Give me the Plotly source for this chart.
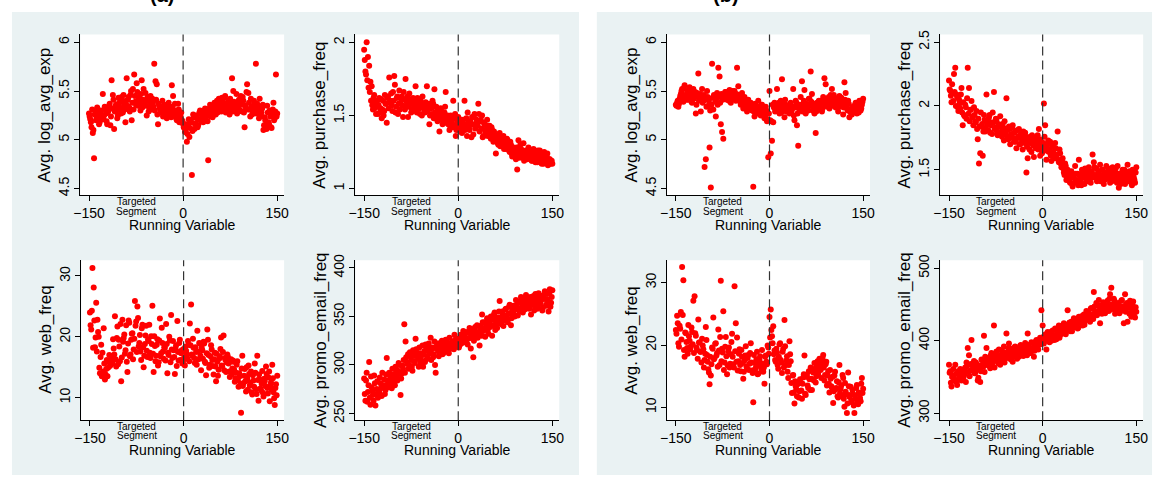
import plotly.graph_objects as go

# ---------------- data ----------------
running_variable = list(range(-150, 151, 2))        # even bins
running_variable_odd = list(range(-149, 150, 2))    # odd bins
x_tick_values = [-150, 0, 150]

a_log_avg_exp = [
    5.27, 5.21, 5.13, 5.07, 4.81, 5.30, 5.24, 5.29, 5.16, 5.27,
    5.22, 5.47, 5.25, 5.31, 5.19, 5.28, 5.35, 5.15, 5.61, 5.46,
    5.11, 5.34, 5.30, 5.25, 5.38, 5.32, 5.44, 5.28, 5.36, 5.18,
    5.63, 5.41, 5.33, 5.46, 5.20, 5.52, 5.67, 5.39, 5.58, 5.35,
    5.44, 5.30, 5.61, 5.41, 5.36, 5.48, 5.25, 5.40, 5.33, 5.45,
    5.31, 5.38, 5.78, 5.60, 5.57, 5.16, 5.35, 5.28, 5.33, 5.24,
    5.36, 5.29, 5.22, 5.34, 5.27, 5.31, 5.56, 5.45, 5.25, 5.30,
    5.20, 5.37, 5.18, 5.24, 5.20, 5.16, 5.12, 5.10, 4.98, 5.14,
    5.03, 5.19, 4.64, 5.26, 5.11, 5.17, 5.22, 5.15, 5.28, 5.20,
    5.25, 5.18, 5.30, 5.22, 5.27, 4.79, 5.32, 5.24, 5.35, 5.29,
    5.38, 5.26, 5.40, 5.33, 5.38, 5.30, 5.43, 5.36, 5.43, 5.28,
    5.34, 5.40, 5.26, 5.37, 5.63, 5.50, 5.31, 5.38, 5.27, 5.34,
    5.37, 5.45, 5.29, 5.40, 5.13, 5.33, 5.57, 5.48, 5.31, 5.42,
    5.26, 5.35, 5.29, 5.78, 5.37, 5.30, 5.42, 5.25, 5.32, 5.10,
    5.23, 5.14, 5.35, 5.18, 5.30, 5.13, 5.27, 5.38, 5.22, 5.67,
    5.27,
]
a_log_avg_exp_odd = [
    5.24, 5.18, 5.31, 5.10, 5.26, 5.20, 5.33, 5.23, 5.18, 5.30,
    5.25, 5.21, 5.34, 5.27, 5.16, 5.30, 5.37, 5.24, 5.32, 5.41,
    5.29, 5.36, 5.22, 5.43, 5.33, 5.27, 5.39, 5.46, 5.31, 5.40,
    5.35, 5.44, 5.29, 5.50, 5.38, 5.31, 5.45, 5.36, 5.49, 5.42,
    5.38, 5.47, 5.33, 5.52, 5.40, 5.35, 5.43, 5.29, 5.39, 5.36,
    5.42, 5.34, 5.30, 5.41, 5.26, 5.37, 5.32, 5.28, 5.40, 5.30,
    5.27, 5.33, 5.25, 5.38, 5.30, 5.23, 5.34, 5.28, 5.37, 5.22,
    5.26, 5.31, 5.22, 5.28, 5.19, 5.13, 5.08, 5.16, 5.06, 5.21,
    5.12, 5.18, 5.09, 5.23, 5.16, 5.25, 5.13, 5.21, 5.30, 5.19,
    5.28, 5.21, 5.32, 5.25, 5.19, 5.30, 5.36, 5.27, 5.23, 5.33,
    5.31, 5.37, 5.28, 5.42, 5.35, 5.29, 5.39, 5.33, 5.45, 5.37,
    5.30, 5.36, 5.42, 5.33, 5.29, 5.39, 5.35, 5.47, 5.32, 5.41,
    5.30, 5.36, 5.44, 5.28, 5.35, 5.49, 5.31, 5.38, 5.24, 5.34,
    5.29, 5.40, 5.32, 5.27, 5.35, 5.22, 5.31, 5.28, 5.36, 5.15,
    5.20, 5.11, 5.28, 5.16, 5.24, 5.12, 5.31, 5.20, 5.29, 5.24,
]
a_purchase_freq = [
    1.95, 1.80, 2.00, 1.90, 1.84, 1.73, 1.70, 1.54, 1.64, 1.59,
    1.56, 1.51, 1.62, 1.55, 1.48, 1.60, 1.53, 1.58, 1.45, 1.63,
    1.76, 1.60, 1.57, 1.66, 1.77, 1.52, 1.62, 1.51, 1.67, 1.58,
    1.63, 1.49, 1.61, 1.75, 1.57, 1.49, 1.65, 1.59, 1.54, 1.62,
    1.57, 1.70, 1.52, 1.58, 1.55, 1.60, 1.50, 1.57, 1.53, 1.59,
    1.70, 1.54, 1.44, 1.56, 1.51, 1.58, 1.68, 1.49, 1.53, 1.47,
    1.39, 1.55, 1.50, 1.46, 1.52, 1.66, 1.48, 1.44, 1.40, 1.50,
    1.45, 1.60, 1.43, 1.36, 1.47, 1.49, 1.42, 1.45, 1.38, 1.47,
    1.60, 1.43, 1.36, 1.46, 1.40, 1.44, 1.49, 1.37, 1.51, 1.42,
    1.45, 1.58, 1.39, 1.47, 1.50, 1.36, 1.44, 1.40, 1.47, 1.38,
    1.43, 1.34, 1.40, 1.32, 1.37, 1.24, 1.35, 1.30, 1.38, 1.33,
    1.29, 1.36, 1.31, 1.27, 1.34, 1.29, 1.25, 1.30, 1.22, 1.28,
    1.25, 1.20, 1.13, 1.33, 1.24, 1.27, 1.21, 1.31, 1.23, 1.26,
    1.20, 1.28, 1.22, 1.25, 1.19, 1.27, 1.21, 1.24, 1.18, 1.22,
    1.26, 1.19, 1.23, 1.17, 1.21, 1.19, 1.24, 1.17, 1.20, 1.18,
    1.17,
]
a_purchase_freq_odd = [
    1.88, 1.78, 1.74, 1.69, 1.66, 1.60, 1.57, 1.62, 1.55, 1.51,
    1.60, 1.57, 1.52, 1.61, 1.54, 1.50, 1.64, 1.58, 1.62, 1.55,
    1.59, 1.65, 1.53, 1.60, 1.71, 1.56, 1.63, 1.58, 1.54, 1.61,
    1.57, 1.66, 1.54, 1.60, 1.63, 1.56, 1.61, 1.52, 1.58, 1.55,
    1.60, 1.54, 1.62, 1.56, 1.51, 1.57, 1.63, 1.55, 1.52, 1.56,
    1.53, 1.58, 1.50, 1.55, 1.60, 1.48, 1.52, 1.56, 1.46, 1.51,
    1.48, 1.53, 1.44, 1.49, 1.56, 1.45, 1.50, 1.47, 1.43, 1.46,
    1.42, 1.48, 1.51, 1.40, 1.45, 1.43, 1.39, 1.47, 1.41, 1.44,
    1.40, 1.48, 1.52, 1.42, 1.46, 1.35, 1.44, 1.49, 1.41, 1.47,
    1.43, 1.51, 1.46, 1.41, 1.35, 1.45, 1.39, 1.43, 1.36, 1.41,
    1.38, 1.42, 1.35, 1.39, 1.33, 1.36, 1.31, 1.35, 1.29, 1.34,
    1.32, 1.27, 1.33, 1.29, 1.31, 1.26, 1.32, 1.24, 1.28, 1.26,
    1.23, 1.28, 1.25, 1.21, 1.30, 1.24, 1.26, 1.19, 1.25, 1.22,
    1.24, 1.21, 1.26, 1.19, 1.23, 1.25, 1.18, 1.22, 1.26, 1.20,
    1.23, 1.17, 1.21, 1.25, 1.18, 1.22, 1.16, 1.20, 1.17, 1.19,
]
a_web_freq = [
    24.0, 21.2, 31.3, 28.1, 18.3, 25.6, 22.8, 20.0, 14.0, 18.7,
    17.4, 21.4, 13.0, 14.7, 13.5, 15.9, 15.2, 16.4, 15.6, 18.1,
    23.4, 15.1, 21.7, 19.5, 16.0, 12.7, 22.8, 19.8, 17.2, 21.9,
    14.2, 22.7, 16.8, 19.5, 20.6, 17.9, 25.9, 22.5, 25.0, 18.4,
    20.3, 16.2, 22.0, 15.0, 18.8, 21.8, 16.7, 19.3, 17.4, 20.1,
    25.1, 14.2, 18.5, 16.9, 19.6, 15.8, 23.0, 17.3, 19.0, 16.4,
    18.2, 22.1, 14.0, 17.0, 19.4, 23.6, 16.5, 17.8, 13.9, 18.6,
    22.6, 16.1, 19.5, 17.3, 15.6, 18.0, 15.3, 17.7, 16.4, 18.7,
    22.2, 25.3, 16.9, 18.2, 15.7, 17.5, 21.0, 16.3, 18.9, 14.5,
    17.8, 19.2, 15.9, 13.7, 21.2, 17.0, 15.4, 18.6, 16.2, 13.8,
    17.4, 12.7, 15.9, 14.6, 16.8, 19.9, 15.2, 20.2, 16.5, 14.2,
    17.1, 15.6, 13.4, 16.3, 14.8, 15.9, 12.6, 14.1, 16.0, 11.8,
    13.5, 7.5, 16.9, 12.4, 14.7, 11.0, 13.2, 15.3, 12.0, 14.3,
    10.5, 12.8, 15.6, 11.4, 16.9, 9.5, 13.0, 11.2, 14.4, 10.2,
    12.7, 15.1, 11.6, 13.3, 9.4, 12.5, 15.4, 10.9, 8.8, 12.2,
    13.6,
]
a_web_freq_odd = [
    21.9, 24.3, 18.2, 22.7, 19.9, 17.6, 20.8, 14.9, 16.7, 13.5,
    14.3, 15.6, 13.8, 16.2, 14.9, 17.0, 15.4, 16.8, 19.6, 17.1,
    16.3, 19.8, 15.5, 18.4, 22.1, 16.6, 19.2, 20.4, 17.8, 15.9,
    18.9, 22.3, 17.1, 20.5, 16.3, 19.7, 21.8, 17.5, 23.1, 19.0,
    17.6, 21.4, 18.3, 16.9, 20.2, 17.7, 19.5, 22.0, 16.5, 18.8,
    17.2, 20.1, 16.0, 18.7, 15.3, 19.4, 16.8, 21.5, 17.6, 18.3,
    16.1, 18.8, 17.4, 20.0, 15.8, 17.9, 19.3, 16.7, 18.1, 15.2,
    17.5, 19.0, 16.2, 17.8, 15.9, 16.6, 18.4, 17.2, 19.3, 16.0,
    18.6, 17.1, 19.7, 16.5, 18.3, 15.4, 17.6, 19.0, 16.9, 18.2,
    16.4, 18.9, 15.7, 17.3, 19.5, 14.9, 16.8, 17.9, 15.2, 16.3,
    15.1, 17.2, 13.6, 16.4, 18.0, 15.3, 17.5, 14.5, 16.2, 15.8,
    16.7, 14.3, 15.9, 13.8, 16.1, 14.6, 13.2, 15.4, 12.9, 14.0,
    12.3, 14.8, 11.9, 13.6, 12.7, 15.0, 11.3, 13.9, 12.5, 10.9,
    13.7, 11.8, 14.1, 10.6, 12.9, 13.8, 11.5, 12.3, 10.8, 13.1,
    11.9, 13.9, 10.7, 14.3, 12.0, 11.3, 13.2, 9.9, 11.6, 10.4,
]
a_promo_email_freq = [
    286, 263, 292, 272, 303, 259, 277, 269, 289, 258,
    275, 266, 272, 281, 268, 278, 285, 274, 307, 280,
    292, 284, 276, 290, 282, 298, 288, 294, 300, 269,
    291, 296, 342, 324, 303, 311, 300, 309, 298, 315,
    304, 327, 312, 306, 318, 302, 310, 298, 314, 321,
    306, 318, 312, 328, 316, 308, 324, 292, 320, 314,
    322, 317, 325, 312, 319, 326, 321, 316, 328, 320,
    324, 318, 331, 322, 327, 325, 320, 331, 326, 335,
    329, 323, 334, 327, 338, 317, 332, 308, 336, 330,
    341, 334, 320, 339, 352, 335, 344, 337, 348, 332,
    343, 350, 330, 341, 354, 345, 338, 349, 366, 347,
    355, 340, 351, 358, 346, 353, 362, 341, 356, 361,
    350, 367, 359, 364, 355, 370, 362, 366, 357, 372,
    364, 368, 360, 352, 366, 371, 361, 369, 358, 374,
    363, 367, 356, 372, 376, 362, 368, 355, 378, 364,
    377,
]
a_promo_email_freq_odd = [
    270, 284, 262, 279, 266, 288, 273, 263, 281, 270,
    283, 271, 287, 276, 292, 279, 270, 290, 284, 277,
    289, 281, 296, 287, 279, 293, 284, 302, 291, 286,
    299, 305, 292, 308, 301, 296, 313, 305, 294, 310,
    302, 316, 309, 298, 312, 305, 320, 311, 303, 317,
    309, 322, 314, 305, 318, 311, 300, 317, 322, 309,
    315, 323, 311, 320, 314, 324, 318, 312, 322, 317,
    321, 316, 326, 319, 323, 318, 328, 322, 329, 324,
    332, 326, 321, 333, 328, 337, 330, 325, 339, 333,
    328, 340, 335, 330, 344, 338, 329, 342, 336, 346,
    339, 347, 341, 352, 336, 349, 343, 355, 348, 342,
    352, 346, 357, 349, 344, 360, 353, 348, 358, 352,
    357, 362, 351, 365, 358, 368, 354, 363, 369, 360,
    365, 358, 370, 362, 367, 356, 373, 365, 360, 369,
    364, 371, 359, 368, 373, 361, 366, 374, 360, 370,
]
b_log_avg_exp = [
    5.36, 5.38, 5.34, 5.42, 5.47, 5.52, 5.39, 5.56, 5.45, 5.50,
    5.41, 5.54, 5.47, 5.38, 5.52, 5.44, 5.27, 5.48, 5.68, 5.44,
    5.29, 5.52, 5.40, 4.72, 4.80, 5.50, 5.35, 4.92, 4.51, 5.78,
    5.31, 5.45, 5.24, 5.48, 5.74, 5.65, 5.16, 5.08, 5.01, 5.44,
    5.49, 5.41, 5.46, 5.51, 5.38, 5.47, 5.43, 5.50, 5.40, 5.74,
    5.55, 5.42, 5.36, 5.48, 5.32, 5.44, 5.37, 5.29, 5.41, 5.34,
    5.38, 5.30, 4.52, 5.24, 5.35, 5.28, 5.40, 5.32, 5.25, 5.36,
    5.29, 5.22, 5.34, 5.19, 4.82, 5.50, 4.86, 4.99, 5.18, 5.38,
    5.30, 5.52, 5.34, 5.27, 5.40, 5.62, 5.31, 5.23, 5.36, 5.29,
    5.34, 5.27, 5.38, 5.31, 5.52, 5.20, 5.40, 5.15, 4.94, 5.36,
    5.44, 5.60, 5.33, 5.51, 5.27, 5.36, 5.30, 5.42, 5.70, 5.47,
    5.34, 5.27, 5.07, 5.38, 5.31, 5.36, 5.40, 5.29, 5.44, 5.63,
    5.57, 5.35, 5.42, 5.32, 5.46, 5.52, 5.37, 5.43, 5.33, 5.41,
    5.29, 5.45, 5.36, 5.39, 5.26, 5.59, 5.48, 5.34, 5.40, 5.23,
    5.31, 5.26, 5.34, 5.29, 5.38, 5.27, 5.33, 5.40, 5.30, 5.36,
    5.42,
]
b_log_avg_exp_odd = [
    5.35, 5.40, 5.37, 5.45, 5.50, 5.43, 5.53, 5.46, 5.41, 5.48,
    5.44, 5.50, 5.39, 5.46, 5.42, 5.49, 5.36, 5.45, 5.40, 5.47,
    5.43, 5.38, 5.46, 5.41, 5.34, 5.44, 5.40, 5.30, 5.36, 5.43,
    5.46, 5.39, 5.42, 5.36, 5.44, 5.38, 5.47, 5.41, 5.45, 5.49,
    5.43, 5.46, 5.40, 5.48, 5.44, 5.50, 5.42, 5.45, 5.47, 5.41,
    5.46, 5.39, 5.44, 5.37, 5.42, 5.35, 5.40, 5.33, 5.38, 5.31,
    5.36, 5.33, 5.29, 5.37, 5.31, 5.27, 5.34, 5.30, 5.36, 5.28,
    5.32, 5.25, 5.30, 5.21, 5.27, 5.20, 5.19, 5.36, 5.33, 5.29,
    5.35, 5.30, 5.38, 5.33, 5.28, 5.37, 5.32, 5.41, 5.29, 5.35,
    5.31, 5.36, 5.29, 5.34, 5.25, 5.33, 5.38, 5.27, 5.32, 5.30,
    5.36, 5.29, 5.40, 5.33, 5.37, 5.31, 5.42, 5.35, 5.39, 5.30,
    5.37, 5.33, 5.29, 5.36, 5.40, 5.34, 5.38, 5.32, 5.41, 5.36,
    5.39, 5.34, 5.44, 5.37, 5.41, 5.35, 5.46, 5.38, 5.42, 5.36,
    5.40, 5.34, 5.43, 5.38, 5.33, 5.41, 5.36, 5.30, 5.37, 5.29,
    5.27, 5.33, 5.29, 5.36, 5.31, 5.38, 5.28, 5.35, 5.32, 5.39,
]
b_purchase_freq = [
    2.20, 2.12, 2.03, 2.10, 2.25, 2.30, 2.09, 1.99, 2.05, 1.98,
    2.14, 1.85, 1.93, 2.01, 1.90, 2.30, 2.14, 1.97, 2.04, 1.92,
    1.99, 1.88, 1.96, 1.74, 1.55, 1.63, 1.84, 1.61, 1.93, 1.80,
    2.09, 1.86, 1.91, 1.79, 1.87, 1.95, 2.11, 1.83, 1.89, 1.77,
    1.84, 1.92, 1.80, 1.86, 1.73, 1.81, 2.06, 1.76, 1.84, 1.70,
    1.78, 1.85, 1.72, 1.80, 1.67, 1.75, 1.82, 1.70, 1.77, 1.66,
    1.73, 1.79, 1.48, 1.59, 1.71, 1.76, 1.64, 1.70, 1.60, 1.73,
    1.68, 1.77, 1.82, 1.61, 1.72, 1.65, 2.02, 1.85, 1.58, 1.70,
    1.64, 1.72, 1.57, 1.68, 1.62, 1.71, 1.60, 1.80, 1.56, 1.63,
    1.52, 1.59, 1.48, 1.55, 1.42, 1.50, 1.45, 1.40, 1.49, 1.37,
    1.44, 1.53, 1.41, 1.47, 1.58, 1.43, 1.38, 1.49, 1.45, 1.51,
    1.41, 1.47, 1.52, 1.43, 1.49, 1.62, 1.56, 1.45, 1.51, 1.42,
    1.48, 1.54, 1.44, 1.50, 1.39, 1.47, 1.53, 1.43, 1.49, 1.40,
    1.46, 1.52, 1.42, 1.48, 1.44, 1.53, 1.36, 1.46, 1.41, 1.50,
    1.45, 1.39, 1.48, 1.54, 1.43, 1.47, 1.40, 1.50, 1.44, 1.40,
    1.52,
]
b_purchase_freq_odd = [
    2.13, 2.08, 2.17, 2.04, 2.11, 2.00, 2.07, 1.96, 2.02, 2.09,
    1.95, 2.03, 1.92, 1.99, 2.06, 1.94, 1.88, 1.97, 1.91, 1.85,
    1.93, 1.87, 1.82, 1.90, 1.84, 1.95, 1.86, 1.80, 1.89, 1.83,
    1.88, 1.81, 1.93, 1.85, 1.78, 1.87, 1.82, 1.90, 1.80, 1.86,
    1.79, 1.85, 1.76, 1.83, 1.88, 1.78, 1.81, 1.74, 1.82, 1.77,
    1.83, 1.75, 1.79, 1.72, 1.81, 1.76, 1.70, 1.78, 1.73, 1.80,
    1.71, 1.76, 1.68, 1.74, 1.66, 1.72, 1.77, 1.69, 1.75, 1.67,
    1.72, 1.66, 1.74, 1.69, 1.63, 1.71, 1.76, 1.68, 1.65, 1.73,
    1.66, 1.61, 1.69, 1.64, 1.59, 1.67, 1.62, 1.58, 1.66, 1.55,
    1.57, 1.51, 1.46, 1.53, 1.43, 1.48, 1.41, 1.45, 1.39, 1.44,
    1.40, 1.47, 1.42, 1.38, 1.46, 1.41, 1.50, 1.44, 1.39, 1.47,
    1.43, 1.49, 1.45, 1.40, 1.48, 1.44, 1.52, 1.46, 1.41, 1.49,
    1.45, 1.41, 1.50, 1.46, 1.42, 1.48, 1.44, 1.51, 1.43, 1.47,
    1.41, 1.49, 1.45, 1.51, 1.40, 1.47, 1.43, 1.39, 1.48, 1.44,
    1.50, 1.42, 1.46, 1.41, 1.49, 1.44, 1.38, 1.46, 1.42, 1.48,
]
b_web_freq = [
    22.4, 24.7, 20.3, 23.1, 25.3, 32.5, 30.4, 18.1, 21.9, 19.5,
    23.2, 20.7, 19.8, 22.1, 27.1, 27.8, 21.5, 19.2, 24.1, 20.4,
    18.9, 21.0, 19.3, 17.6, 22.9, 18.4, 16.1, 13.7, 15.1, 19.6,
    24.4, 17.9, 20.3, 18.7, 22.5, 16.8, 30.3, 19.4, 25.4, 17.2,
    21.3, 15.3, 19.0, 16.4, 18.5, 21.8, 16.9, 29.4, 23.5, 21.2,
    17.4, 19.3, 15.8, 18.1, 14.6, 17.5, 19.8, 16.2, 18.4, 17.0,
    20.3, 15.9, 10.8, 17.1, 16.3, 18.9, 15.4, 17.6, 16.5, 19.2,
    15.7, 13.8, 18.3, 16.9, 19.6, 24.5, 25.7, 21.4, 23.0, 19.1,
    17.3, 18.8, 16.2, 20.1, 17.6, 15.5, 19.4, 24.0, 16.8, 18.2,
    14.7, 20.6, 17.4, 12.3, 15.2, 10.6, 13.4, 11.8, 14.1, 12.6,
    13.9, 11.4, 14.8, 18.3, 12.0, 15.2, 13.1, 14.5, 16.4, 12.8,
    15.6, 17.1, 14.0, 16.5, 15.3, 17.8, 16.0, 17.2, 18.4, 14.3,
    16.9, 13.5, 15.8, 12.4, 14.6, 13.2, 10.7, 15.1, 12.9, 14.2,
    11.6, 16.8, 13.0, 11.9, 14.7, 10.1, 12.5, 9.1, 15.6, 11.7,
    13.3, 10.8, 12.1, 9.1, 11.4, 13.6, 10.5, 12.2, 11.0, 14.7,
    13.0,
]
b_web_freq_odd = [
    21.8, 23.5, 19.7, 22.6, 20.9, 24.8, 19.2, 22.0, 20.5, 18.6,
    21.4, 19.3, 22.8, 20.1, 18.7, 21.9, 19.6, 17.8, 20.4, 18.9,
    17.2, 19.9, 16.4, 18.6, 20.8, 17.3, 15.6, 18.1, 16.9, 19.4,
    17.7, 20.2, 18.3, 16.5, 19.1, 21.3, 17.4, 18.8, 16.0, 19.7,
    18.2, 16.7, 19.6, 17.0, 20.5, 18.1, 16.4, 19.0, 17.3, 15.9,
    18.6, 16.8, 19.2, 17.1, 15.7, 18.3, 16.6, 17.9, 16.0, 18.7,
    17.2, 15.5, 18.4, 16.1, 17.7, 15.3, 16.9, 18.2, 15.8, 17.0,
    16.4, 18.1, 17.3, 19.9, 18.6, 21.2, 22.4, 20.3, 18.5, 17.6,
    19.4, 16.8, 18.1, 20.3, 17.2, 18.9, 16.4, 19.8, 17.5, 15.7,
    16.8, 18.5, 13.9, 15.1, 12.4, 14.2, 12.9, 13.7, 11.6, 14.5,
    12.7, 13.8, 15.3, 12.2, 14.9, 13.5, 15.8, 12.8, 14.6, 16.1,
    14.3, 16.2, 15.0, 17.4, 15.9, 16.8, 14.7, 17.9, 16.4, 15.2,
    17.3, 15.1, 13.8, 16.0, 13.4, 14.9, 12.6, 15.7, 13.1, 11.8,
    14.0, 12.3, 13.5, 15.2, 11.4, 13.9, 12.1, 10.6, 13.4, 12.0,
    11.2, 12.8, 10.3, 11.9, 13.1, 10.9, 12.4, 11.5, 13.8, 12.3,
]
b_promo_email_freq = [
    367, 358, 337, 352, 348, 367, 343, 355, 348, 361,
    345, 357, 352, 363, 370, 390, 380, 359, 401, 365,
    372, 356, 368, 345, 362, 343, 374, 366, 407, 378,
    390, 369, 376, 362, 383, 372, 421, 379, 385, 371,
    388, 367, 381, 375, 392, 378, 410, 384, 396, 376,
    389, 371, 383, 392, 380, 386, 378, 393, 384, 390,
    381, 397, 386, 410, 391, 383, 398, 388, 378, 395,
    401, 389, 397, 404, 442, 421, 396, 408, 388, 412,
    403, 410, 400, 414, 406, 417, 402, 412, 421, 408,
    416, 410, 424, 414, 419, 442, 420, 413, 426, 418,
    431, 422, 428, 417, 433, 425, 430, 421, 436, 428,
    441, 432, 437, 426, 445, 434, 467, 440, 452, 438,
    456, 424, 447, 443, 452, 438, 448, 455, 441, 464,
    473, 446, 458, 437, 451, 443, 449, 440, 455, 444,
    424, 464, 450, 426, 447, 455, 433, 449, 442, 432,
    440,
]
b_promo_email_freq_odd = [
    356, 342, 350, 361, 345, 354, 339, 358, 347, 352,
    360, 349, 356, 343, 365, 357, 351, 368, 359, 363,
    355, 370, 361, 349, 366, 358, 373, 364, 357, 369,
    375, 366, 371, 380, 368, 377, 363, 382, 374, 369,
    379, 372, 386, 377, 370, 383, 376, 389, 380, 374,
    385, 378, 391, 382, 375, 388, 381, 394, 386, 379,
    392, 385, 380, 394, 388, 383, 397, 390, 386, 399,
    393, 388, 401, 395, 398, 405, 400, 409, 402, 406,
    398, 412, 405, 408, 401, 415, 407, 411, 404, 418,
    412, 420, 415, 409, 422, 416, 425, 419, 413, 427,
    420, 429, 423, 418, 431, 426, 434, 427, 422, 433,
    429, 438, 431, 444, 436, 430, 447, 440, 435, 449,
    442, 448, 437, 453, 445, 440, 451, 446, 458, 443,
    450, 445, 455, 441, 448, 452, 438, 447, 456, 443,
    448, 440, 452, 445, 437, 450, 443, 454, 439, 446,
]

# ---------------- layout config ----------------
W, H = 1163, 484
BG = "#EAF2F3"
FONT = "Arial, Liberation Sans, Helvetica, sans-serif"

panels = [
    dict(y=a_log_avg_exp, y2=a_log_avg_exp_odd, title="Avg. log_avg_exp", yr=[4.43, 6.08], yt=[4.5, 5, 5.5, 6], px=(74, 280), py=(29, 193)),
    dict(y=a_purchase_freq, y2=a_purchase_freq_odd, title="Avg. purchase_freq", yr=[0.953, 2.054], yt=[1, 1.5, 2], px=(352, 558), py=(29, 193)),
    dict(y=a_web_freq, y2=a_web_freq_odd, title="Avg. web_freq", yr=[6.3, 32.6], yt=[10, 20, 30], px=(75, 280), py=(259, 422)),
    dict(y=a_promo_email_freq, y2=a_promo_email_freq_odd, title="Avg. promo_email_freq", yr=[243, 408], yt=[250, 300, 350, 400], px=(352, 558), py=(259, 422)),
    dict(y=b_log_avg_exp, y2=b_log_avg_exp_odd, title="Avg. log_avg_exp", yr=[4.43, 6.08], yt=[4.5, 5, 5.5, 6], px=(667, 872), py=(29, 193)),
    dict(y=b_purchase_freq, y2=b_purchase_freq_odd, title="Avg. purchase_freq", yr=[1.30, 2.56], yt=[1.5, 2, 2.5], px=(943, 1148), py=(29, 193)),
    dict(y=b_web_freq, y2=b_web_freq_odd, title="Avg. web_freq", yr=[7.95, 33.6], yt=[10, 20, 30], px=(667, 872), py=(259, 422)),
    dict(y=b_promo_email_freq, y2=b_promo_email_freq_odd, title="Avg. promo_email_freq", yr=[290.5, 511], yt=[300, 400, 500], px=(943, 1148), py=(259, 422)),
]

fig = go.Figure()
shapes = [
    dict(type="rect", xref="paper", yref="paper", x0=5 / W, x1=578 / W, y0=1 - 478 / H, y1=1 - 6 / H,
         fillcolor=BG, line=dict(width=0), layer="below"),
    dict(type="rect", xref="paper", yref="paper", x0=596 / W, x1=1157 / W, y0=1 - 478 / H, y1=1 - 6 / H,
         fillcolor=BG, line=dict(width=0), layer="below"),
]
annotations = []
layout_axes = {}

for i, p in enumerate(panels, start=1):
    sfx = "" if i == 1 else str(i)
    xname, yname = "x" + sfx, "y" + sfx
    x0, x1 = p["px"]
    ytop, ybot = p["py"]
    fig.add_trace(go.Scatter(
        x=running_variable + running_variable_odd, y=p["y"] + p["y2"], mode="markers",
        marker=dict(color="#ff0000", size=6, line=dict(width=0)),
        xaxis=xname, yaxis=yname, showlegend=False, hoverinfo="skip",
    ))
    common = dict(showline=True, linecolor="#000000", linewidth=1, ticks="outside", ticklen=5,
                  tickcolor="#000000", tickwidth=1, showgrid=False, zeroline=False,
                  tickfont=dict(family=FONT, size=14, color="#000000"))
    layout_axes["xaxis" + sfx] = dict(domain=[x0 / W, x1 / W], anchor=yname, range=[-164, 161],
                                      tickvals=x_tick_values, **common)
    layout_axes["yaxis" + sfx] = dict(domain=[1 - ybot / H, 1 - ytop / H], anchor=xname, range=p["yr"],
                                      tickvals=p["yt"], tickangle=-90, **common)
    shapes.append(dict(type="rect", xref=xname + " domain", yref=yname + " domain", x0=0, x1=1, y0=0, y1=1,
                       fillcolor="white", line=dict(width=0), layer="below"))
    shapes.append(dict(type="line", xref=xname, yref=yname + " domain", x0=0, x1=0, y0=0, y1=1,
                       line=dict(color="#333333", width=1.2, dash="9px,5px")))
    annotations.append(dict(text=p["title"], xref="paper", yref="paper", x=(x0 - 36) / W,
                            y=1 - ((ytop + ybot) / 2) / H, textangle=-90, showarrow=False,
                            xanchor="center", yanchor="middle",
                            font=dict(family=FONT, size=17, color="#000000")))
    annotations.append(dict(text="Running Variable", xref="paper", yref="paper", x=((x0 + x1) / 2) / W,
                            y=1 - (ybot + 30) / H, showarrow=False, xanchor="center", yanchor="middle",
                            font=dict(family=FONT, size=14, color="#000000")))
    for txt, off in (("Targeted", 6), ("Segment", 16)):
        annotations.append(dict(text=txt, xref=xname, yref="paper", x=-75, y=1 - (ybot + off) / H,
                                showarrow=False, xanchor="center", yanchor="middle", borderpad=0,
                                font=dict(family=FONT, size=10, color="#000000")))

# clipped panel captions at the very top (only their lower edge is visible)
for txt, xp in (("(a)", 142), ("(b)", 727)):
    annotations.append(dict(text="<b>" + txt + "</b>", xref="paper", yref="paper", x=xp / W, y=1,
                            yanchor="bottom", yshift=-2, showarrow=False,
                            font=dict(family=FONT, size=20, color="#000000")))

fig.update_layout(
    width=W, height=H, margin=dict(l=0, r=0, t=0, b=0),
    paper_bgcolor="white", plot_bgcolor="white",
    shapes=shapes, annotations=annotations, **layout_axes,
)

fig.write_html(
    "out.html",
    config={"displayModeBar": False},
    post_script="document.body.style.margin='0';document.body.style.padding='0';"
                "document.body.style.overflow='hidden';document.documentElement.style.overflow='hidden';",
)
